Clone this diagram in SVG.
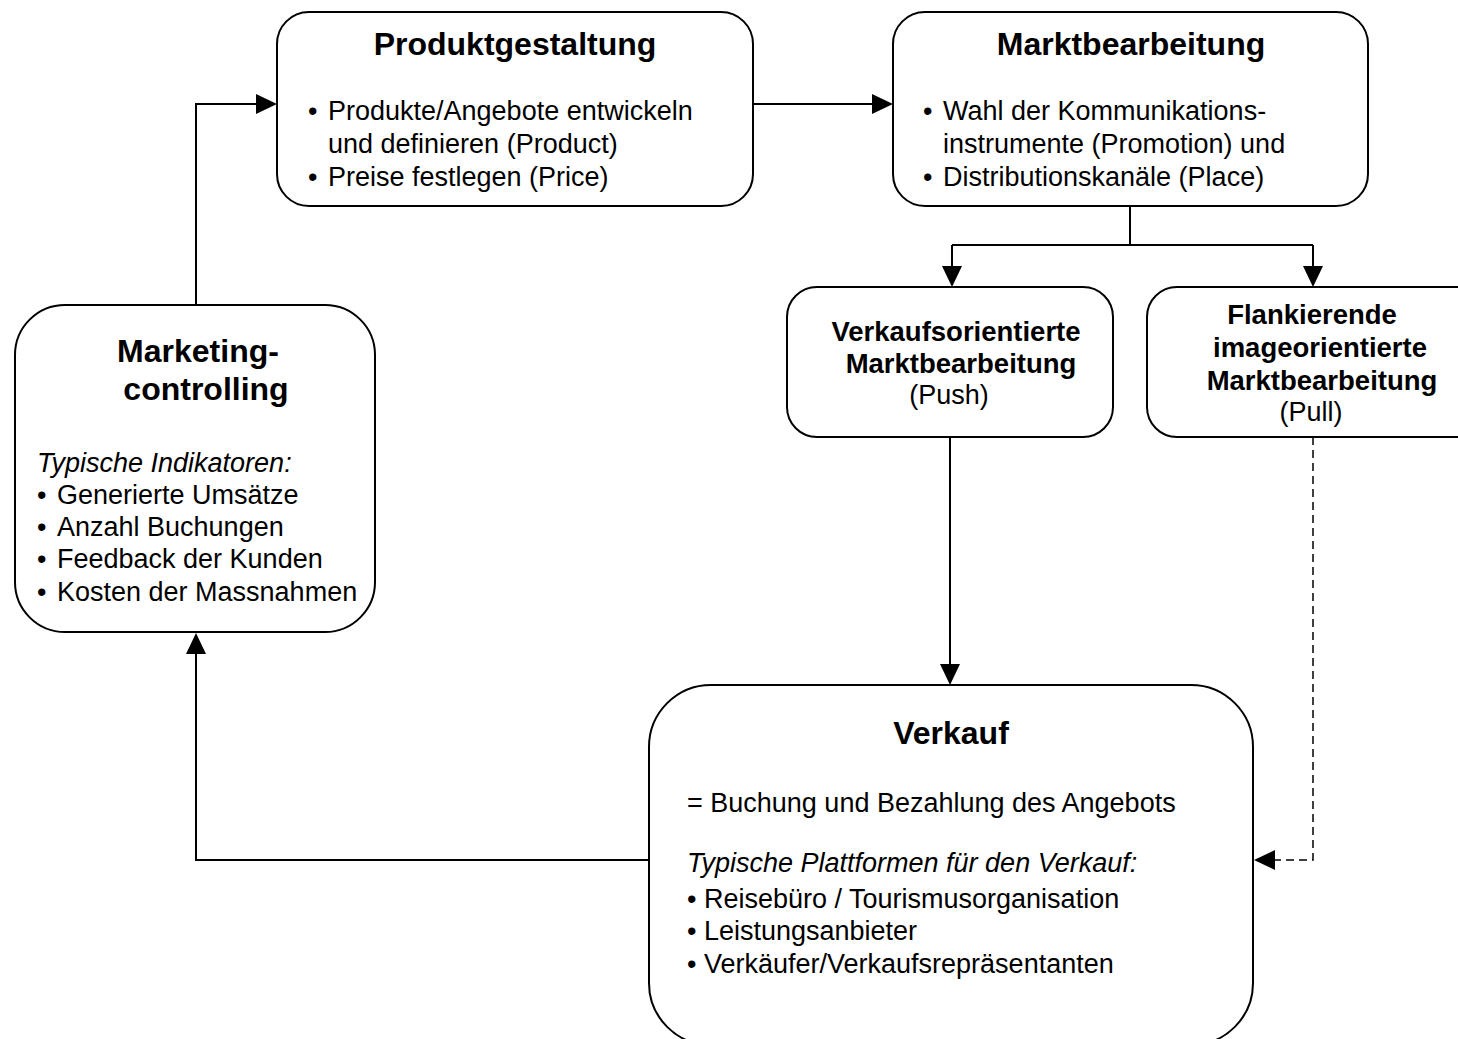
<svg xmlns="http://www.w3.org/2000/svg" width="1458" height="1039" viewBox="0 0 1458 1039">
  <style>
    .box { fill: #fff; stroke: #000; stroke-width: 2; }
    .title { font-family: "Liberation Sans", Arial, sans-serif; font-weight: bold; font-size: 32px; fill: #000; }
    .sub { font-family: "Liberation Sans", Arial, sans-serif; font-weight: bold; font-size: 27.5px; fill: #000; }
    .txt { font-family: "Liberation Sans", Arial, sans-serif; font-size: 27px; fill: #000; }
    .it { font-style: italic; }
    .line { fill: none; stroke: #000; stroke-width: 2; }
    .dash { fill: none; stroke: #000; stroke-width: 1.5; stroke-dasharray: 8 5; }
  </style>

  <rect width="1458" height="1039" fill="#fff"/>

  <!-- connectors -->
  <g id="connectors">
    <!-- Marketingcontrolling -> Produktgestaltung -->
    <path class="line" d="M196,305 V104 H257"/>
    <path d="M277,104 L256,94 L256,114 Z"/>
    <!-- Produktgestaltung -> Marktbearbeitung -->
    <path class="line" d="M753,104 H873"/>
    <path d="M893,104 L872,94 L872,114 Z"/>
    <!-- Marktbearbeitung -> two branches -->
    <path class="line" d="M1130,206 V245 M952,245 H1313 M952,245 V268 M1313,245 V268"/>
    <path d="M952,287 L942,266 L962,266 Z"/>
    <path d="M1313,287 L1303,266 L1323,266 Z"/>
    <!-- Push -> Verkauf -->
    <path class="line" d="M950,437 V665"/>
    <path d="M950,685 L940,664 L960,664 Z"/>
    <!-- Pull -> Verkauf (dashed) -->
    <path class="dash" d="M1313,437 V860 H1274"/>
    <path d="M1254,860 L1275,850 L1275,870 Z"/>
    <!-- Verkauf -> Marketingcontrolling -->
    <path class="line" d="M649,860 H196 V653"/>
    <path d="M196,633 L186,654 L206,654 Z"/>
  </g>

  <!-- Produktgestaltung -->
  <g id="produktgestaltung">
    <rect class="box" x="277" y="12" width="476" height="194" rx="32"/>
    <text class="title" x="515" y="55" text-anchor="middle">Produktgestaltung</text>
    <text class="txt" x="308" y="120">•</text>
    <text class="txt" x="328" y="120">Produkte/Angebote entwickeln</text>
    <text class="txt" x="328" y="153">und definieren (Product)</text>
    <text class="txt" x="308" y="186">•</text>
    <text class="txt" x="328" y="186">Preise festlegen (Price)</text>
  </g>

  <!-- Marktbearbeitung -->
  <g id="marktbearbeitung">
    <rect class="box" x="893" y="12" width="475" height="194" rx="32"/>
    <text class="title" x="1131" y="55" text-anchor="middle">Marktbearbeitung</text>
    <text class="txt" x="923" y="120">•</text>
    <text class="txt" x="943" y="120">Wahl der Kommunikations-</text>
    <text class="txt" x="943" y="153">instrumente (Promotion) und</text>
    <text class="txt" x="923" y="186">•</text>
    <text class="txt" x="943" y="186">Distributionskanäle (Place)</text>
  </g>

  <!-- Verkaufsorientierte Marktbearbeitung -->
  <g id="push">
    <rect class="box" x="787" y="287" width="326" height="150" rx="30"/>
    <text class="sub" x="956" y="341" text-anchor="middle">Verkaufsorientierte</text>
    <text class="sub" x="961" y="373" text-anchor="middle">Marktbearbeitung</text>
    <text class="txt" x="949" y="404" text-anchor="middle">(Push)</text>
  </g>

  <!-- Flankierende imageorientierte Marktbearbeitung -->
  <g id="pull">
    <rect class="box" x="1147" y="287" width="340" height="150" rx="30"/>
    <text class="sub" x="1312" y="324" text-anchor="middle">Flankierende</text>
    <text class="sub" x="1320" y="357" text-anchor="middle">imageorientierte</text>
    <text class="sub" x="1322" y="390" text-anchor="middle">Marktbearbeitung</text>
    <text class="txt" x="1311" y="421" text-anchor="middle">(Pull)</text>
  </g>

  <!-- Marketingcontrolling -->
  <g id="marketingcontrolling">
    <rect class="box" x="15" y="305" width="360" height="327" rx="50"/>
    <text class="title" x="198" y="362" text-anchor="middle">Marketing-</text>
    <text class="title" x="206" y="400" text-anchor="middle">controlling</text>
    <text class="txt it" x="37" y="472">Typische Indikatoren:</text>
    <text class="txt" x="37" y="504">•</text>
    <text class="txt" x="57" y="504">Generierte Umsätze</text>
    <text class="txt" x="37" y="536">•</text>
    <text class="txt" x="57" y="536">Anzahl Buchungen</text>
    <text class="txt" x="37" y="568">•</text>
    <text class="txt" x="57" y="568">Feedback der Kunden</text>
    <text class="txt" x="37" y="601">•</text>
    <text class="txt" x="57" y="601">Kosten der Massnahmen</text>
  </g>

  <!-- Verkauf -->
  <g id="verkauf">
    <rect class="box" x="649" y="685" width="604" height="360" rx="62"/>
    <text class="title" x="951" y="744" text-anchor="middle">Verkauf</text>
    <text class="txt" x="687" y="812">= Buchung und Bezahlung des Angebots</text>
    <text class="txt it" x="687" y="872">Typische Plattformen für den Verkauf:</text>
    <text class="txt" x="687" y="908">• Reisebüro / Tourismusorganisation</text>
    <text class="txt" x="687" y="940">• Leistungsanbieter</text>
    <text class="txt" x="687" y="973">• Verkäufer/Verkaufsrepräsentanten</text>
  </g>
</svg>
